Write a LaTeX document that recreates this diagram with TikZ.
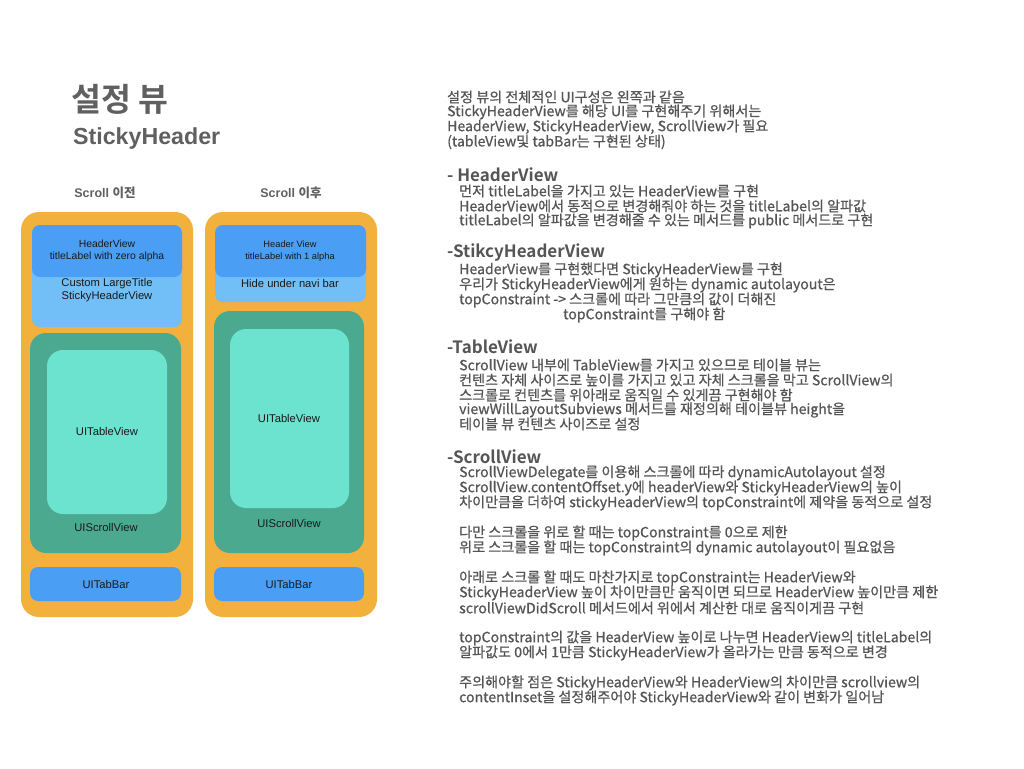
\documentclass[tikz,border=0pt]{standalone}
\usepackage{fontspec}
\setmainfont{Liberation Sans}
\newfontfamily\cjk[FakeBold=0.7]{Noto Sans CJK KR}
\newfontfamily\cjkb{Noto Sans CJK KR Bold}
\newfontfamily\helv{Liberation Sans}
\definecolor{orangec}{HTML}{F2B03C}
\definecolor{dblue}{HTML}{4A9FF5}
\definecolor{lblue}{HTML}{72BEF7}
\definecolor{dgreen}{HTML}{4BA98F}
\definecolor{lgreen}{HTML}{6BE3CF}
\definecolor{txtgray}{HTML}{555555}
\definecolor{titlegray}{HTML}{606060}
\tikzset{
  box/.style={rounded corners=#1, draw=none},
  lbl/.style={font=\helv\fontsize{11.2}{13}\selectfont, text=black!90, align=center, inner sep=0pt},
  body/.style={anchor=west, inner sep=0pt, font=\cjk\fontsize{14.1}{15}\selectfont, text=txtgray},
  head/.style={anchor=west, inner sep=0pt, font=\cjkb\fontsize{17}{19}\selectfont, text=txtgray},
}
\begin{document}
\begin{tikzpicture}[x=1pt,y=-1pt]
\useasboundingbox (0,0) rectangle (1024,768);
\fill[white] (0,0) rectangle (1024,768);
% titles
\node[anchor=west, inner sep=0pt, font=\cjkb\fontsize{32.5}{35}\selectfont, text=titlegray] (t1) at (71,99) {설정 뷰};
\node[anchor=west, inner sep=0pt, font=\helv\bfseries\fontsize{23.2}{26}\selectfont, text=titlegray] (t2) at (73,139) {StickyHeader};
\node[inner sep=0pt, font=\helv\bfseries\fontsize{12.5}{14}\selectfont, text=titlegray] (s1) at (105,193) {Scroll {\cjkb 이전}};
\node[inner sep=0pt, font=\helv\bfseries\fontsize{12.5}{14}\selectfont, text=titlegray] (s2) at (291,193) {Scroll {\cjkb 이후}};
% left phone
\fill[orangec, box=18] (21,212) rectangle (193,617);
\fill[lblue, box=8] (32,225) rectangle (182,327);
\fill[dblue, box=8] (32,225) rectangle (182,277);
\node[lbl, font=\helv\fontsize{10.4}{12.5}\selectfont] (l1) at (107,251) {HeaderView\\titleLabel with zero alpha};
\node[lbl] (l2) at (107,290) {Custom LargeTitle\\StickyHeaderView};
\fill[dgreen, box=16] (30,333) rectangle (181,553);
\fill[lgreen, box=16] (47,350) rectangle (167,514);
\node[lbl] (l3) at (107,431) {UITableView};
\node[lbl] (l4) at (106,527) {UIScrollView};
\fill[dblue, box=8] (30,567) rectangle (181,601);
\node[lbl] (l5) at (106,584) {UITabBar};
% right phone
\fill[orangec, box=18] (205,212) rectangle (377,617);
\fill[lblue, box=8] (215,225) rectangle (366,302);
\fill[dblue, box=8] (215,225) rectangle (366,277);
\node[lbl, font=\helv\fontsize{9.3}{11.5}\selectfont] (r1) at (290,251) {Header View\\titleLabel with 1 alpha};
\node[lbl] (r2) at (290,283) {Hide under navi bar};
\fill[dgreen, box=16] (214,311) rectangle (364,553);
\fill[lgreen, box=16] (230,329) rectangle (349,508);
\node[lbl] (r3) at (289,418) {UITableView};
\node[lbl] (r4) at (289,523) {UIScrollView};
\fill[dblue, box=8] (214,567) rectangle (364,601);
\node[lbl] (r5) at (289,584) {UITabBar};
% right text
\node[body] (a1) at (447,97) {설정 뷰의 전체적인 UI구성은 왼쪽과 같음};
\node[body] (a2) at (447,112) {StickyHeaderView를 해당 UI를 구현해주기 위해서는};
\node[body] (a3) at (447,127) {HeaderView, StickyHeaderView, ScrollView가 필요};
\node[body] (a4) at (447,142) {(tableView및 tabBar는 구현된 상태)};
\node[head] (h1) at (447,175) {- HeaderView};
\node[body] (b1) at (459,191) {먼저 titleLabel을 가지고 있는 HeaderView를 구현};
\node[body] (b2) at (459,206) {HeaderView에서 동적으로 변경해줘야 하는 것을 titleLabel의 알파값};
\node[body] (b3) at (459,221) {titleLabel의 알파값을 변경해줄 수 있는 메서드를 public 메서드로 구현};
\node[head] (h2) at (447,253) {-StikcyHeaderView};
\node[body] (c1) at (459,270) {HeaderView를 구현했다면 StickyHeaderView를 구현};
\node[body] (c2) at (459,285) {우리가 StickyHeaderView에게 원하는 dynamic autolayout은};
\node[body] (c3) at (459,300) {topConstraint -> 스크롤에 따라 그만큼의 값이 더해진};
\node[body] (c4) at (563,315) {topConstraint를 구해야 함};
\node[head] (h3) at (447,347) {-TableView};
\node[body] (d1) at (459,365) {ScrollView 내부에 TableView를 가지고 있으므로 테이블 뷰는};
\node[body] (d2) at (459,380) {컨텐츠 자체 사이즈로 높이를 가지고 있고 자체 스크롤을 막고 ScrollView의};
\node[body] (d3) at (459,395) {스크롤로 컨텐츠를 위아래로 움직일 수 있게끔 구현해야 함};
\node[body] (d4) at (459,410) {viewWillLayoutSubviews 메서드를 재정의해 테이블뷰 height을};
\node[body] (d5) at (459,424) {테이블 뷰 컨텐츠 사이즈로 설정};
\node[head] (h4) at (447,457) {-ScrollView};
\node[body] (e1) at (459,473) {ScrollViewDelegate를 이용해 스크롤에 따라 dynamicAutolayout 설정};
\node[body] (e2) at (459,488) {ScrollView.contentOffset.y에 headerView와 StickyHeaderView의 높이};
\node[body] (e3) at (459,503) {차이만큼을 더하여 stickyHeaderView의 topConstraint에 제약을 동적으로 설정};
\node[body] (e4) at (459,533) {다만 스크롤을 위로 할 때는 topConstraint를 0으로 제한};
\node[body] (e5) at (459,548) {위로 스크롤을 할 때는 topConstraint의 dynamic autolayout이 필요없음};
\node[body] (f1) at (459,578) {아래로 스크롤 할 때도 마찬가지로 topConstraint는 HeaderView와};
\node[body] (f2) at (459,593) {StickyHeaderView 높이 차이만큼만 움직이면 되므로 HeaderView 높이만큼 제한};
\node[body] (f3) at (459,608) {scrollViewDidScroll 메서드에서 위에서 계산한 대로 움직이게끔 구현};
\node[body] (g1) at (459,638) {topConstraint의 값을 HeaderView 높이로 나누면 HeaderView의 titleLabel의};
\node[body] (g2) at (459,653) {알파값도 0에서 1만큼 StickyHeaderView가 올라가는 만큼 동적으로 변경};
\node[body] (k1) at (459,683) {주의해야할 점은 StickyHeaderView와 HeaderView의 차이만큼 scrollview의};
\node[body] (k2) at (459,698) {contentInset을 설정해주어야 StickyHeaderView와 같이 변화가 일어남};
\end{tikzpicture}
\end{document}
